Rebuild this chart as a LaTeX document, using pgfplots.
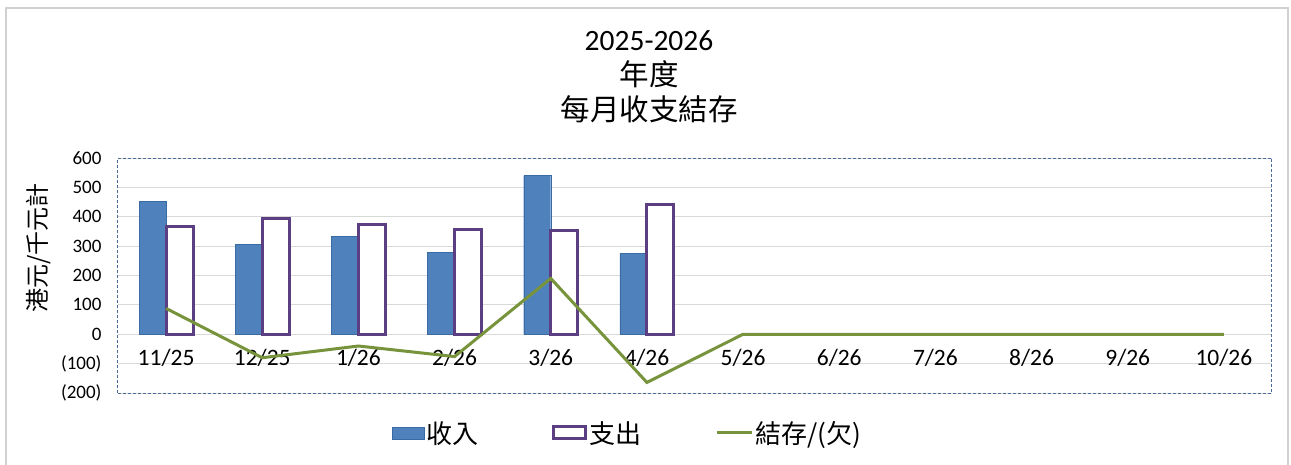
\documentclass[border=0pt]{standalone}
\usepackage{fontspec}
\setmainfont{Carlito}
\newfontfamily\cjk{Noto Sans CJK TC}
\usepackage{pgfplots}
\pgfplotsset{compat=1.18}
\definecolor{incblue}{HTML}{4F81BD}
\definecolor{incedge}{HTML}{3A6AA4}
\definecolor{exppurple}{HTML}{5C3F82}
\definecolor{balgreen}{HTML}{77933C}
\definecolor{framedash}{HTML}{4A6A96}
\begin{document}
\begin{tikzpicture}[x=1pt,y=1pt]
\useasboundingbox (-118,-71) rectangle (1173,393);
\draw[black!18, line width=1.2pt] (-112,-75) -- (-112,385) -- (1170,385) -- (1170,-75);
\begin{axis}[at={(0,0)}, anchor=south west, scale only axis,
  width=1154pt, height=235pt,
  xmin=-0.5, xmax=11.5, ymin=-200, ymax=600,
  xtick={0,...,11},
  xticklabels={11/25,12/25,1/26,2/26,3/26,4/26,5/26,6/26,7/26,8/26,9/26,10/26},
  ytick={-200,-100,...,600},
  yticklabels={(200),(100),0,100,200,300,400,500,600},
  major tick length=0pt,
  ymajorgrids, grid style={draw=black!15, line width=1pt},
  axis line style={draw=framedash, dash pattern=on 3pt off 2pt, line width=1pt},
  xticklabel style={font=\fontsize{23.5}{25}\selectfont, anchor=center, yshift=35pt},
  yticklabel style={font=\fontsize{19}{21}\selectfont, anchor=east, xshift=-13pt},
  /pgf/number format/assume math mode=true,
  legend columns=3,
  legend style={draw=none, fill=none, at={(0.4415,-0.17)}, anchor=center,
    font=\fontsize{26}{28}\cjk, nodes={inner sep=2pt},
    /tikz/every even column/.append style={column sep=72pt}},
]
\addplot[ybar, bar width=27pt, bar shift=-13.5pt, fill=incblue, draw=incedge,
  legend image code/.code={\draw[fill=incblue, draw=incedge] (0pt,-6pt) rectangle (32pt,6pt);}]
  coordinates {(0,452) (1,307) (2,333) (3,278) (4,540) (5,275)};
\addlegendentry{收入}
\addplot[ybar, bar width=27pt, bar shift=13.5pt, fill=white, draw=exppurple, line width=3pt,
  legend image code/.code={\draw[fill=white, draw=exppurple, line width=3pt] (0pt,-6pt) rectangle (32pt,6pt);}]
  coordinates {(0,367) (1,393) (2,375) (3,358) (4,354) (5,441)};
\addlegendentry{支出}
\addplot[balgreen, line width=3pt, no marks, sharp plot,
  legend image code/.code={\draw[balgreen, line width=3pt] (0pt,0pt) -- (35pt,0pt);}]
  coordinates {(0,88) (1,-80) (2,-40) (3,-76) (4,190) (5,-164) (6,0) (7,0) (8,0) (9,0) (10,0) (11,0)};
\addlegendentry{結存/(欠)}
\end{axis}
\node[align=center, font=\fontsize{29.5}{35}\selectfont] at (531,316)
  {2025-2026\\{\cjk 年度}\\{\cjk 每月收支結存}};
\node[rotate=90, font=\fontsize{24}{26}\cjk] at (-79,145) {港元/千元計};
\end{tikzpicture}
\end{document}
